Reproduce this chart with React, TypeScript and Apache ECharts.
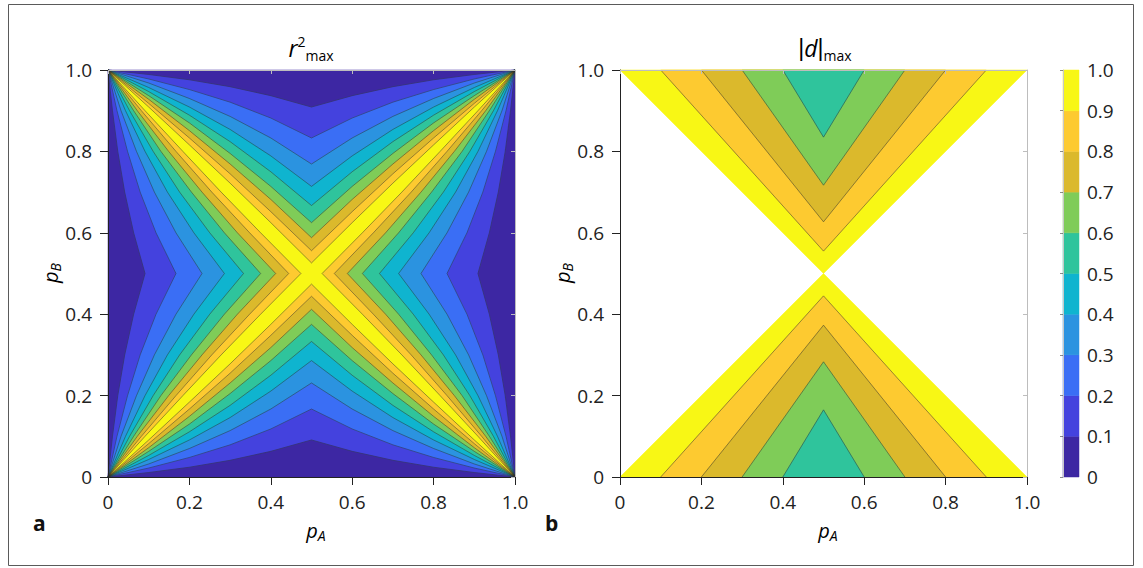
import React, { useEffect, useRef } from 'react';
import * as echarts from 'echarts';

// ---------- data ----------
// colour of each 0.1-wide band, from 0–0.1 up to 0.9–1.0
const bandLevels = [0, 0.1, 0.2, 0.3, 0.4, 0.5, 0.6, 0.7, 0.8, 0.9, 1.0];
const bandColors = ['#3d27a3', '#4442de', '#3a6ef5', '#2b93e0', '#0fb4cf', '#2fc49c', '#7fcc58', '#dbb92c', '#fdca30', '#f8f715'];

// r²max panel: contour levels and, for each, p_A where the contour sits
// at the sampled p_B values (lower-left quadrant, above the diagonal)
const r2Levels = [0.1, 0.2, 0.3, 0.4, 0.5, 0.6, 0.7, 0.8, 0.9];
const r2SamplePB = [0, 0.1, 0.2, 0.3, 0.4, 0.5];
const r2ContourPA = [
  [0, 0.011, 0.024, 0.041, 0.063, 0.091],
  [0, 0.022, 0.048, 0.079, 0.118, 0.167],
  [0, 0.032, 0.070, 0.114, 0.167, 0.231],
  [0, 0.043, 0.091, 0.146, 0.211, 0.286],
  [0, 0.053, 0.111, 0.176, 0.250, 0.333],
  [0, 0.063, 0.130, 0.205, 0.286, 0.375],
  [0, 0.072, 0.149, 0.231, 0.318, 0.412],
  [0, 0.082, 0.167, 0.255, 0.348, 0.444],
  [0, 0.091, 0.184, 0.278, 0.375, 0.474],
];

// |d|max panel: V-shaped contours; foot on p_B = 0 and apex at p_A = 0.5
const dLevels = [1.0, 0.9, 0.8, 0.7, 0.6];
const dFootPA = [0, 0.1, 0.2, 0.3, 0.4];
const dApexPB = [0.5, 0.445, 0.373, 0.283, 0.165];

const axisTicks = [0, 0.2, 0.4, 0.6, 0.8, 1.0];

// ---------- helpers ----------
const FONT = "'Open Sans', 'Noto Sans', sans-serif";
const INK = '#222';
const LINE = 'rgba(45,45,45,0.6)';
type Pt = [number, number];

const fmt = (v: number) => (Math.abs(v) < 1e-9 ? '0' : v.toFixed(1));

function leftLens(cx: number[]): Pt[] {
  const pts: Pt[] = [];
  for (let i = 0; i < r2SamplePB.length; i++) pts.push([cx[i], r2SamplePB[i]]);
  for (let i = r2SamplePB.length - 2; i >= 0; i--) pts.push([cx[i], 1 - r2SamplePB[i]]);
  return pts;
}
function fourLenses(cx: number[]): Pt[][] {
  const L = leftLens(cx);
  return [
    L,
    L.map(([x, y]) => [y, 1 - x] as Pt),
    L.map(([x, y]) => [1 - x, 1 - y] as Pt),
    L.map(([x, y]) => [1 - y, x] as Pt),
  ];
}

function mainXAxis(gi: number) {
  return {
    type: 'value', gridIndex: gi, min: axisTicks[0], max: axisTicks[axisTicks.length - 1], interval: 0.2, position: 'bottom', z: 10,
    axisLine: { show: true, onZero: false, lineStyle: { color: INK, width: 1 } },
    axisTick: { show: true, length: 8, lineStyle: { color: INK } },
    axisLabel: { margin: 15, fontSize: 19, color: INK, fontFamily: FONT, formatter: fmt },
    splitLine: { show: false },
  };
}
function mainYAxis(gi: number) {
  return {
    type: 'value', gridIndex: gi, min: axisTicks[0], max: axisTicks[axisTicks.length - 1], interval: 0.2, position: 'left', z: 10,
    axisLine: { show: true, onZero: false, lineStyle: { color: INK, width: 1 } },
    axisTick: { show: true, length: 8, lineStyle: { color: INK } },
    axisLabel: { margin: 16, fontSize: 19, color: INK, fontFamily: FONT, formatter: fmt },
    splitLine: { show: false },
  };
}
function frameAxis(gi: number, position: string) {
  return {
    type: 'value', gridIndex: gi, min: 0, max: 1, interval: 0.2, position, z: 10,
    axisLine: { show: true, onZero: false, lineStyle: { color: '#bdbdbd', width: 1 } },
    axisTick: { show: true, inside: true, length: 4, lineStyle: { color: '#bdbdbd' } },
    axisLabel: { show: false },
    splitLine: { show: false },
  };
}

const titleRich = {
  i: { fontFamily: FONT, fontStyle: 'italic', fontSize: 23, lineHeight: 28, color: INK },
  n: { fontFamily: "'Liberation Sans', sans-serif", fontSize: 23, lineHeight: 28, color: INK },
  sup: { fontFamily: FONT, fontSize: 14, lineHeight: 16, verticalAlign: 'top', color: INK },
  sub: { fontFamily: FONT, fontSize: 14, lineHeight: 16, verticalAlign: 'bottom', color: INK },
};
const nameRich = {
  p: { fontFamily: FONT, fontStyle: 'italic', fontSize: 20, lineHeight: 24, color: INK },
  s: { fontFamily: FONT, fontStyle: 'italic', fontSize: 14, lineHeight: 15, verticalAlign: 'bottom', color: INK },
};

function buildOption() {
  const r2Data: number[][] = [];
  bandColors.forEach((_, k) => r2Data.push([0, k]));
  r2Levels.forEach((_, k) => r2Data.push([1, k]));

  const dData: number[][] = [];
  dLevels.forEach((_, j) => dData.push([0, j]));
  dLevels.forEach((_, j) => { if (j > 0) dData.push([1, j]); });

  const barData = bandColors.map((_, k) => [k]);

  const square: Pt[] = [[0, 0], [1, 0], [1, 1], [0, 1]];

  const rich = (x: number, y: number, text: string, r: any, extra: any = {}) => ({
    type: 'text', x, y, silent: true, ...extra,
    style: { text, rich: r, textAlign: 'center', textVerticalAlign: 'middle' },
  });
  const txt = (x: number, y: number, text: string, font: string) => ({
    type: 'text', x, y, silent: true,
    style: { text, font, fill: '#111', textAlign: 'left', textVerticalAlign: 'middle' },
  });

  return {
    animation: false,
    backgroundColor: '#ffffff',
    grid: [
      { left: 108, top: 70, width: 407, height: 407 },
      { left: 620, top: 70, width: 407, height: 407 },
      { left: 1063, top: 70, width: 16, height: 407 },
    ],
    xAxis: [
      mainXAxis(0), mainXAxis(1),
      frameAxis(0, 'top'), frameAxis(1, 'top'),
      { type: 'value', gridIndex: 2, min: 0, max: 1, show: false },
    ],
    yAxis: [
      mainYAxis(0), mainYAxis(1),
      frameAxis(0, 'right'), frameAxis(1, 'right'),
      {
        type: 'value', gridIndex: 2, min: 0, max: 1, interval: 0.1, position: 'right', z: 10,
        axisLine: { show: false },
        axisTick: { show: true, inside: true, length: 3, lineStyle: { color: 'rgba(60,60,60,0.6)' } },
        axisLabel: { margin: 8, fontSize: 19, color: INK, fontFamily: FONT, formatter: fmt },
        splitLine: { show: false },
      },
      {
        type: 'value', gridIndex: 2, min: 0, max: 1, position: 'left', z: 10,
        axisLine: { show: true, lineStyle: { color: '#c8c8c8' } },
        axisTick: { show: false }, axisLabel: { show: false }, splitLine: { show: false },
      },
    ],
    series: [
      {
        type: 'custom', name: 'r2max', xAxisIndex: 0, yAxisIndex: 0, data: r2Data, silent: true,
        renderItem: (_p: any, api: any) => {
          const kind = api.value(0);
          const k = api.value(1);
          if (kind === 0) {
            let pts: Pt[];
            if (k === 0) pts = square;
            else pts = ([] as Pt[]).concat(...fourLenses(r2ContourPA[k - 1]));
            return {
              type: 'polygon',
              shape: { points: pts.map((p) => api.coord(p)) },
              style: { fill: bandColors[k], stroke: bandColors[k], lineWidth: 0.5 },
            };
          }
          return {
            type: 'group',
            children: fourLenses(r2ContourPA[k]).map((l) => ({
              type: 'polyline',
              shape: { points: l.map((p) => api.coord(p)) },
              style: { stroke: LINE, lineWidth: 0.8, fill: null },
            })),
          };
        },
      },
      {
        type: 'custom', name: 'dmax', xAxisIndex: 1, yAxisIndex: 1, data: dData, silent: true,
        renderItem: (_p: any, api: any) => {
          const kind = api.value(0);
          const j = api.value(1);
          const f = dFootPA[j];
          const a = dApexPB[j];
          const bottom: Pt[] = [[f, 0], [0.5, a], [1 - f, 0]];
          const top: Pt[] = [[f, 1], [0.5, 1 - a], [1 - f, 1]];
          const colorIdx = Math.round(dLevels[j] * 10) - 1;
          if (kind === 0) {
            const c = bandColors[colorIdx];
            return {
              type: 'group',
              children: [bottom, top].map((t) => ({
                type: 'polygon',
                shape: { points: t.map((p) => api.coord(p)) },
                style: { fill: c, stroke: c, lineWidth: 0.5 },
              })),
            };
          }
          return {
            type: 'group',
            children: [bottom, top].map((t) => ({
              type: 'polyline',
              shape: { points: t.map((p) => api.coord(p)) },
              style: { stroke: LINE, lineWidth: 0.8, fill: null },
            })),
          };
        },
      },
      {
        type: 'custom', name: 'colorbar', xAxisIndex: 4, yAxisIndex: 4, data: barData, silent: true,
        renderItem: (_p: any, api: any) => {
          const k = api.value(0);
          const p0 = api.coord([0, bandLevels[k]]);
          const p1 = api.coord([1, bandLevels[k + 1]]);
          return {
            type: 'rect',
            shape: { x: p0[0], y: p1[1], width: p1[0] - p0[0], height: p0[1] - p1[1] },
            style: { fill: bandColors[k], stroke: bandColors[k], lineWidth: 0.5 },
          };
        },
      },
    ],
    graphic: [
      { type: 'rect', shape: { x: 8.5, y: 4.5, width: 1125, height: 561 }, style: { fill: 'none', stroke: '#5a5a5a', lineWidth: 1 }, silent: true },
      // titles
      rich(311, 48, '{i|r}{sup|2}{sub|max}', titleRich),
      rich(825, 48, '{n||}{i|d}{n||}{sub|max}', titleRich),
      // x-axis names
      rich(316, 530, '{p|p}{s|A}', nameRich),
      rich(828, 530, '{p|p}{s|A}', nameRich),
      // y-axis names (rotated)
      rich(50, 273, '{p|p}{s|B}', nameRich, { rotation: Math.PI / 2 }),
      rich(562, 273, '{p|p}{s|B}', nameRich, { rotation: Math.PI / 2 }),
      // panel letters
      txt(33, 523, 'a', `bold 21px ${FONT}`),
      txt(545, 523, 'b', `bold 21px ${FONT}`),
    ],
  };
}

export default function App() {
  const ref = useRef<HTMLDivElement>(null);
  useEffect(() => {
    if (!ref.current) return;
    const chart = echarts.init(ref.current, null, { renderer: 'svg' });
    chart.setOption(buildOption() as any);
    return () => chart.dispose();
  }, []);
  return (
    <div
      ref={ref}
      style={{ position: 'fixed', left: 0, top: 0, width: 1143, height: 568, background: '#fff' }}
    />
  );
}
